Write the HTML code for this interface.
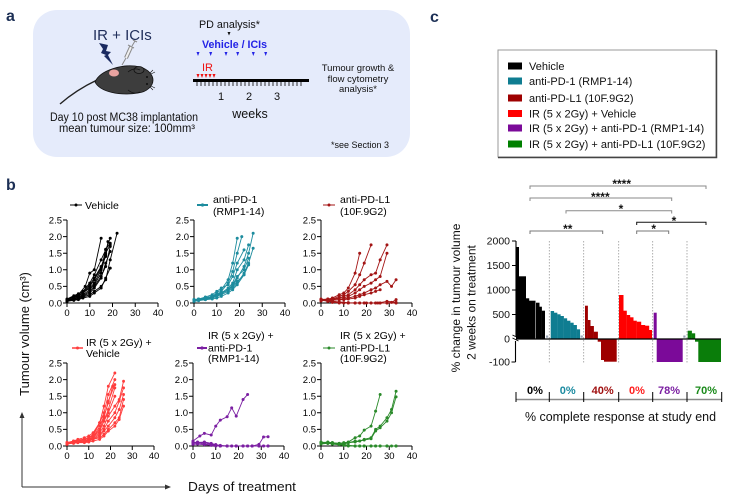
<!DOCTYPE html>
<html><head><meta charset="utf-8"><style>
html,body{margin:0;padding:0;background:#fff}
svg{display:block;font-family:"Liberation Sans",Arial,sans-serif}
.ax{stroke:#000;stroke-width:1;fill:none}
.tk{font-size:9.5px;fill:#000}
.s polyline{fill:none;stroke-width:0.9;vector-effect:non-scaling-stroke}
.lg{font-size:10.5px;fill:#000}
</style></head><body>
<svg width="735" height="497" viewBox="0 0 735 497" xmlns="http://www.w3.org/2000/svg">
<defs>
<marker id="m0" markerUnits="userSpaceOnUse" overflow="visible" style="overflow:visible"><circle r="1.5" transform="scale(0.4396,0.03012)" fill="#000"/></marker>
<marker id="m1" markerUnits="userSpaceOnUse" overflow="visible" style="overflow:visible"><circle r="1.5" transform="scale(0.4396,0.03012)" fill="#1d8c9e"/></marker>
<marker id="m2" markerUnits="userSpaceOnUse" overflow="visible" style="overflow:visible"><circle r="1.5" transform="scale(0.4396,0.03012)" fill="#a31515"/></marker>
<marker id="m3" markerUnits="userSpaceOnUse" overflow="visible" style="overflow:visible"><circle r="1.5" transform="scale(0.4396,0.03012)" fill="#ff3c3c"/></marker>
<marker id="m4" markerUnits="userSpaceOnUse" overflow="visible" style="overflow:visible"><circle r="1.5" transform="scale(0.4396,0.03012)" fill="#7b1fa2"/></marker>
<marker id="m5" markerUnits="userSpaceOnUse" overflow="visible" style="overflow:visible"><circle r="1.5" transform="scale(0.4396,0.03012)" fill="#2a8a2a"/></marker>
</defs>

<!-- ===== Panel a ===== -->
<text x="6" y="21" font-size="16" font-weight="bold" fill="#1c2f55">a</text>
<rect x="33" y="10" width="377" height="147" rx="24" fill="#e5ebfb"/>
<text x="93" y="40" font-size="15" fill="#1f2d5a">IR + ICIs</text>
<path d="M99,43 L108,45 L106,51 L111,52 L108,55 L113,65 L104,56 L106,55 L101,53 L103,49 Z" fill="#1a2a60"/>
<g stroke="#8a8a8a" fill="none">
<line x1="131" y1="47" x2="126" y2="58" stroke-width="4"/>
<line x1="131" y1="47" x2="126" y2="58" stroke="#f0f0f0" stroke-width="2"/>
<line x1="126" y1="58" x2="122" y2="65" stroke-width="1"/>
<line x1="132" y1="46" x2="135" y2="41" stroke-width="1"/>
<line x1="133" y1="40" x2="137" y2="42" stroke-width="1.2"/>
<line x1="128" y1="45" x2="134" y2="48" stroke-width="1"/>
</g>
<path d="M60,104 Q76,90 97,80" stroke="#222" stroke-width="1.4" fill="none"/>
<path d="M95,82 C100,70 124,63 140,67 C148,69 153,75 153,80 C153,86 147,92 138,93 C120,96 100,92 95,82 Z" fill="#3d3d3d" stroke="#111" stroke-width="0.8"/>
<ellipse cx="139" cy="70" rx="5" ry="3.5" fill="#444" stroke="#111" stroke-width="0.8"/>
<path d="M128,90 Q134,95 140,92" stroke="#111" stroke-width="0.8" fill="none"/>
<path d="M128,72 Q134,67 140,70" stroke="#111" stroke-width="0.8" fill="none"/>
<ellipse cx="114" cy="73" rx="5" ry="3.5" fill="#e9a3a0"/>
<circle cx="147" cy="77" r="0.9" fill="#000"/>
<circle cx="147" cy="84" r="0.9" fill="#000"/>
<path d="M150,73 l3,-3 M151,74 l4,-2 M150,87 l3,3 M151,86 l4,2" stroke="#111" stroke-width="0.6"/>
<text x="50" y="121" font-size="11.5" fill="#111" textLength="148" lengthAdjust="spacingAndGlyphs">Day 10 post MC38 implantation</text>
<text x="59" y="132" font-size="11.5" fill="#111" textLength="136" lengthAdjust="spacingAndGlyphs">mean tumour size: 100mm³</text>
<text x="199" y="28" font-size="11" fill="#111" textLength="61" lengthAdjust="spacingAndGlyphs">PD analysis*</text>
<path d="M227.5,32 h3 l-1.5,3.5 z" fill="#111"/>
<text x="202" y="48" font-size="11" font-weight="bold" fill="#2323e6" textLength="65" lengthAdjust="spacingAndGlyphs">Vehicle / ICIs</text>
<g fill="#2323e6">
<path d="M196.5,52 h3 l-1.5,4 z"/><path d="M209.2,52 h3 l-1.5,4 z"/><path d="M224.5,52 h3 l-1.5,4 z"/>
<path d="M236.2,52 h3 l-1.5,4 z"/><path d="M251.8,52 h3 l-1.5,4 z"/><path d="M264.2,52 h3 l-1.5,4 z"/>
</g>
<text x="202" y="71" font-size="11" fill="#ee1111">IR</text>
<g fill="#ee1111">
<path d="M196.5,74 h3 l-1.5,4 z"/><path d="M200.5,74 h3 l-1.5,4 z"/><path d="M204.5,74 h3 l-1.5,4 z"/>
<path d="M208.5,74 h3 l-1.5,4 z"/><path d="M212.5,74 h3 l-1.5,4 z"/>
</g>
<line x1="193" y1="80.5" x2="309" y2="80.5" stroke="#000" stroke-width="3"/>
<path d="M197,82v4m4,-4v4m4,-4v4m4,-4v4m4,-4v4m4,-4v4m4,-4v4m4,-4v4m4,-4v4m4,-4v4m4,-4v4m4,-4v4m4,-4v4m4,-4v4m4,-4v4m4,-4v4m4,-4v4m4,-4v4m4,-4v4m4,-4v4m4,-4v4m4,-4v4m4,-4v4m4,-4v4m4,-4v4m4,-4v4m4,-4v4" stroke="#000" stroke-width="0.8"/>
<g font-size="11" fill="#111" text-anchor="middle">
<text x="221" y="100">1</text><text x="249" y="100">2</text><text x="277" y="100">3</text>
</g>
<text x="250" y="118" font-size="12.5" fill="#111" text-anchor="middle">weeks</text>
<g font-size="9.5" fill="#111" text-anchor="middle">
<text x="358" y="71">Tumour growth &amp;</text>
<text x="358" y="82">flow cytometry</text>
<text x="358" y="92">analysis*</text>
</g>
<text x="331" y="148" font-size="9" fill="#111" textLength="58" lengthAdjust="spacingAndGlyphs">*see Section 3</text>

<!-- ===== Panel b ===== -->
<text x="6" y="190" font-size="16" font-weight="bold" fill="#1c2f55">b</text>
<path d="M22,487 V417 M22,487 H166" stroke="#333" stroke-width="1" fill="none"/>
<path d="M19.5,418 L22,412 L24.5,418 Z M165,484.5 L171,487 L165,489.5 Z" fill="#333"/>
<text transform="translate(29,334) rotate(-90)" text-anchor="middle" font-size="13" fill="#111">Tumour volume (cm³)</text>
<text x="188" y="491" font-size="13" fill="#111" textLength="108" lengthAdjust="spacingAndGlyphs">Days of treatment</text>

<g class="ax">
<path d="M67,220V303H158 M63,303h4M63,286.4h4M63,269.8h4M63,253.2h4M63,236.6h4M63,220h4 M67,303v4M89.75,303v4M112.5,303v4M135.25,303v4M158,303v4"/>
<path d="M194,220V303H285 M190,303h4M190,286.4h4M190,269.8h4M190,253.2h4M190,236.6h4M190,220h4 M194,303v4M216.75,303v4M239.5,303v4M262.25,303v4M285,303v4"/>
<path d="M321,220V303H412 M317,303h4M317,286.4h4M317,269.8h4M317,253.2h4M317,236.6h4M317,220h4 M321,303v4M343.75,303v4M366.5,303v4M389.25,303v4M412,303v4"/>
<path d="M67,363V446H154 M63,446h4M63,429.4h4M63,412.8h4M63,396.2h4M63,379.6h4M63,363h4 M67,446v4M88.75,446v4M110.5,446v4M132.25,446v4M154,446v4"/>
<path d="M193,363V446H284 M189,446h4M189,429.4h4M189,412.8h4M189,396.2h4M189,379.6h4M189,363h4 M193,446v4M215.75,446v4M238.5,446v4M261.25,446v4M284,446v4"/>
<path d="M321,363V446H412 M317,446h4M317,429.4h4M317,412.8h4M317,396.2h4M317,379.6h4M317,363h4 M321,446v4M343.75,446v4M366.5,446v4M389.25,446v4M412,446v4"/>
</g>
<g class="tk" text-anchor="end">
<text x="62" y="306.3">0.0</text><text x="62" y="289.7">0.5</text><text x="62" y="273.1">1.0</text><text x="62" y="256.5">1.5</text><text x="62" y="239.9">2.0</text><text x="62" y="223.3">2.5</text>
<text x="189" y="306.3">0.0</text><text x="189" y="289.7">0.5</text><text x="189" y="273.1">1.0</text><text x="189" y="256.5">1.5</text><text x="189" y="239.9">2.0</text><text x="189" y="223.3">2.5</text>
<text x="316" y="306.3">0.0</text><text x="316" y="289.7">0.5</text><text x="316" y="273.1">1.0</text><text x="316" y="256.5">1.5</text><text x="316" y="239.9">2.0</text><text x="316" y="223.3">2.5</text>
<text x="62" y="449.3">0.0</text><text x="62" y="432.7">0.5</text><text x="62" y="416.1">1.0</text><text x="62" y="399.5">1.5</text><text x="62" y="382.9">2.0</text><text x="62" y="366.3">2.5</text>
<text x="188" y="449.3">0.0</text><text x="188" y="432.7">0.5</text><text x="188" y="416.1">1.0</text><text x="188" y="399.5">1.5</text><text x="188" y="382.9">2.0</text><text x="188" y="366.3">2.5</text>
<text x="316" y="449.3">0.0</text><text x="316" y="432.7">0.5</text><text x="316" y="416.1">1.0</text><text x="316" y="399.5">1.5</text><text x="316" y="382.9">2.0</text><text x="316" y="366.3">2.5</text>
</g>
<g class="tk" text-anchor="middle">
<text x="67" y="316">0</text><text x="89.75" y="316">10</text><text x="112.5" y="316">20</text><text x="135.25" y="316">30</text><text x="158" y="316">40</text>
<text x="194" y="316">0</text><text x="216.75" y="316">10</text><text x="239.5" y="316">20</text><text x="262.25" y="316">30</text><text x="285" y="316">40</text>
<text x="321" y="316">0</text><text x="343.75" y="316">10</text><text x="366.5" y="316">20</text><text x="389.25" y="316">30</text><text x="412" y="316">40</text>
<text x="67" y="459">0</text><text x="88.75" y="459">10</text><text x="110.5" y="459">20</text><text x="132.25" y="459">30</text><text x="154" y="459">40</text>
<text x="193" y="459">0</text><text x="215.75" y="459">10</text><text x="238.5" y="459">20</text><text x="261.25" y="459">30</text><text x="284" y="459">40</text>
<text x="321" y="459">0</text><text x="343.75" y="459">10</text><text x="366.5" y="459">20</text><text x="389.25" y="459">30</text><text x="412" y="459">40</text>
</g>

<line x1="70" y1="205" x2="82" y2="205" stroke="#000" stroke-width="1"/><circle cx="76" cy="205" r="1.5" fill="#000"/>
<text class="lg" x="85" y="209">Vehicle</text>
<line x1="197" y1="205" x2="208" y2="205" stroke="#1d8c9e" stroke-width="2"/><circle cx="202.5" cy="205" r="1.6" fill="#1d8c9e"/>
<text class="lg" x="213" y="203">anti-PD-1</text><text class="lg" x="213" y="215">(RMP1-14)</text>
<line x1="323" y1="205" x2="335" y2="205" stroke="#a31515" stroke-width="1"/><circle cx="329" cy="205" r="1.5" fill="#a31515"/>
<text class="lg" x="340" y="203">anti-PD-L1</text><text class="lg" x="340" y="215">(10F.9G2)</text>
<line x1="72" y1="348" x2="83" y2="348" stroke="#ff3c3c" stroke-width="1.5"/><circle cx="77.5" cy="348" r="1.5" fill="#ff3c3c"/>
<text class="lg" x="86" y="346">IR (5 x 2Gy) +</text><text class="lg" x="86" y="357">Vehicle</text>
<line x1="197" y1="348" x2="207" y2="348" stroke="#7b1fa2" stroke-width="2"/><circle cx="202" cy="348" r="1.6" fill="#7b1fa2"/>
<text class="lg" x="208" y="339">IR (5 x 2Gy) +</text><text class="lg" x="208" y="351.5">anti-PD-1</text><text class="lg" x="208" y="362">(RMP1-14)</text>
<line x1="323" y1="348" x2="335" y2="348" stroke="#2a8a2a" stroke-width="1"/><circle cx="329" cy="348" r="1.5" fill="#2a8a2a"/>
<text class="lg" x="340" y="339">IR (5 x 2Gy) +</text><text class="lg" x="340" y="351.5">anti-PD-L1</text><text class="lg" x="340" y="362">(10F.9G2)</text>

<g class="s" transform="translate(67,303) scale(2.275,-33.2)" stroke="#000" style="marker:url(#m0)">
<polyline points="0,.08 3,.15 5,.25 8,.5 10,.9 12,1 15,1.95"/>
<polyline points="0,.1 3,.2 5,.25 7,.35 10,.6 12,.85 15,1.3 17,1.6 19,1.95"/>
<polyline points="0,.06 3,.12 5,.18 7,.25 10,.4 12,.55 15,.9 17,1.5 19,1.75"/>
<polyline points="0,.1 3,.2 5,.22 7,.3 10,.45 12,.6 15,1 17,1.62 19,1.8"/>
<polyline points="0,.08 3,.12 5,.15 7,.2 10,.3 12,.45 15,.75 17,1.2 19,1.55"/>
<polyline points="0,.05 3,.1 5,.12 7,.18 10,.25 12,.35 15,.5 17,.7 19,1.3 22,2.1"/>
<polyline points="0,.1 3,.18 5,.2 7,.3 10,.5 12,.7 15,1.05 17,1.4 18,1.85"/>
<polyline points="0,.07 3,.15 5,.18 7,.22 10,.35 12,.5 15,.8 17,1.1 19,1.7"/>
<polyline points="0,.05 3,.08 5,.1 7,.15 10,.2 12,.3 15,.45 17,.75 19,1.05"/>
<polyline points="0,.12 3,.22 5,.28 7,.32 10,.55 12,.75 15,1.1 17,1.45"/>
</g>
<g class="s" transform="translate(194,303) scale(2.275,-33.2)" stroke="#1d8c9e" style="marker:url(#m1)">
<polyline points="0,.1 2,.12 5,.15 8,.2 10,.3 12,.4 15,.7 17,1.2 19,1.95"/>
<polyline points="0,.08 2,.1 5,.15 8,.2 10,.25 12,.35 15,.6 17,.95 19,1.5 21,2"/>
<polyline points="0,.1 2,.12 5,.18 8,.25 10,.35 12,.45 15,.55 17,.8 19,1.2 22,1.6"/>
<polyline points="0,.06 2,.08 5,.12 8,.18 10,.22 12,.3 15,.45 17,.6 19,1 22,1.3 24,1.75"/>
<polyline points="0,.1 2,.1 5,.15 8,.2 10,.25 12,.3 15,.4 17,.5 19,.75 22,1.1 24,1.5 26,2.1"/>
<polyline points="0,.07 2,.08 5,.1 8,.15 10,.2 12,.25 15,.35 17,.45 19,.6 22,.9 24,1.2 26,1.65"/>
<polyline points="0,.05 2,.07 5,.1 8,.12 10,.15 12,.2 15,.3 17,.4 19,.55 22,.85 24,1.15"/>
<polyline points="0,.08 2,.1 5,.12 8,.15 10,.2 12,.28 15,.4 17,.55 19,.8 22,1 24,1.35"/>
<polyline points="0,.1 5,.15 8,.2 10,.25 12,.3 15,.38 17,.5 19,.65 22,.85"/>
</g>
<g class="s" transform="translate(321,303) scale(2.275,-33.2)" stroke="#a31515" style="marker:url(#m2)">
<polyline points="0,.1 3,.12 5,.15 8,.25 10,.3 12,.45 15,.9 17,1.5"/>
<polyline points="0,.08 3,.1 5,.12 8,.2 10,.25 12,.35 15,.55 17,.85 19,1.2 22,1.75"/>
<polyline points="0,.1 3,.12 5,.1 8,.15 10,.2 12,.25 15,.4 17,.55 19,.7 22,.85 24,.9 26,1.3 29,1.75"/>
<polyline points="0,.06 3,.1 5,.12 8,.15 10,.15 12,.2 15,.3 17,.4 19,.5 22,.6 24,.7 26,.8 29,1.5"/>
<polyline points="0,.1 3,.08 5,.1 8,.1 10,.12 12,.15 15,.2 17,.25 19,.3 22,.4 24,.45 26,.55 29,.65 31,.5 33,.7"/>
<polyline points="0,.08 3,.1 5,.08 8,.1 10,.1 12,.12 15,.15 17,.2 19,.25 22,.3 24,.35 26,.4"/>
<polyline points="0,.12 3,.1 5,.05 8,.02 10,.01 12,0 15,0 17,0 19,0 22,0 24,0 26,0 29,0 31,.02 33,.1"/>
<polyline points="0,.1 3,.05 5,.02 8,0 12,0 15,0 19,0 22,0 26,0 29,0 33,0"/>
<polyline points="0,.1 5,.05 8,.02 10,0 15,0 20,0 25,0 29,.05 33,.02"/>
<polyline points="0,.08 3,.06 8,.03 12,.01 17,0 24,0 33,0"/>
</g>
<g class="s" transform="translate(67,446) scale(2.175,-33.2)" stroke="#ff3c3c" style="marker:url(#m3)">
<polyline points="0,.1 3,.15 5,.2 8,.25 10,.3 12,.4 15,.7 17,1.2 19,1.8 22,2.2"/>
<polyline points="0,.08 3,.12 5,.18 8,.2 10,.25 12,.35 15,.7 17,1 19,1.55 22,2"/>
<polyline points="0,.1 3,.15 5,.18 8,.2 10,.25 12,.3 15,.5 17,.85 19,1.35 22,1.85"/>
<polyline points="0,.06 3,.1 5,.15 8,.18 10,.2 12,.28 15,.45 17,.75 19,1.1 22,1.75"/>
<polyline points="0,.1 3,.12 5,.15 8,.15 10,.2 12,.25 15,.4 17,.6 19,.9 22,1.2 24,1.4 26,1.95"/>
<polyline points="0,.08 3,.1 5,.12 8,.15 10,.18 12,.22 15,.35 17,.5 19,.75 22,1 24,1.35 26,1.75"/>
<polyline points="0,.05 3,.1 5,.1 8,.12 10,.15 12,.2 15,.3 17,.45 19,.6 22,.85 24,1.1 26,1.55"/>
<polyline points="0,.1 3,.1 5,.12 8,.15 10,.15 12,.2 15,.25 17,.35 19,.5 22,.7 24,.85 26,1.4"/>
<polyline points="0,.07 3,.08 5,.1 8,.1 10,.12 12,.15 15,.2 17,.3 19,.45 22,.6 24,.8 26,1.2"/>
<polyline points="0,.1 3,.12 5,.15 8,.2 10,.25 12,.3 15,.7 17,.75 19,1 22,1.5"/>
<polyline points="0,.08 3,.1 5,.12 8,.15 10,.2 12,.25 15,.6 17,.9 19,1.3 21,1.8"/>
</g>
<g class="s" transform="translate(193,446) scale(2.275,-33.2)" stroke="#7b1fa2" style="marker:url(#m4)">
<polyline points="0,.15 3,.3 5,.38 8,.33 10,.6 12,.78 15,.88 17,1.15 19,.9 22,1.4 24,1.55"/>
<polyline points="0,.12 2,.1 5,.12 8,.08 10,.04 12,0 15,0 19,0 22,0 26,0 29,.05 31,.27 33,.28"/>
<polyline points="0,.1 2,.12 5,.1 8,.05 10,.03 12,0 15,0 17,0 19,0 22,0 24,0 26,0 29,0 31,0 33,0"/>
<polyline points="0,.08 2,.1 5,.06 8,.03 10,.02 12,0 15,0 17,0 19,0 22,0 24,0 26,0 29,0 31,0 33,0"/>
<polyline points="0,.05 2,.06 5,.04 8,.02 10,0 12,0 15,0 19,0 22,0 26,0 29,0 33,0"/>
<polyline points="0,.1 2,.08 5,.1 8,.06 10,.04 12,.02 15,0 19,0 24,0"/>
</g>
<g class="s" transform="translate(321,446) scale(2.275,-33.2)" stroke="#2a8a2a" style="marker:url(#m5)">
<polyline points="0,.1 3,.1 5,.08 8,.08 10,.1 12,.12 15,.25 17,.3 19,.48 22,.6 24,1.05 26,1.55"/>
<polyline points="0,.1 3,.08 5,.06 8,.05 10,.05 12,.1 15,.15 17,.15 19,.2 22,.25 24,.5 26,.6 29,.85 31,1.1 33,1.65"/>
<polyline points="0,.08 3,.1 5,.08 8,.05 10,.08 12,.1 15,.12 17,.15 19,.18 22,.22 24,.45 26,.55 29,.75 31,1 33,1.48"/>
<polyline points="0,.1 3,.12 5,.1 8,.08 10,.05 12,.02 15,0 17,0 19,0 22,0 24,0 26,0 29,0 31,0 33,0"/>
<polyline points="0,.12 3,.1 5,.06 8,.04 10,.02 12,0 15,0 17,0 19,0 22,0 26,0 29,0 33,0"/>
<polyline points="0,.06 3,.08 5,.1 8,.06 10,.03 12,.01 15,0 19,0 24,0 29,0 33,0"/>
</g>

<!-- ===== Panel c ===== -->
<text x="430" y="22" font-size="16" font-weight="bold" fill="#1c2f55">c</text>
<rect x="498" y="50" width="218" height="107" fill="#fff" stroke="#999" stroke-width="1"/>
<path d="M716.5,50 V157.5 H498" stroke="#444" stroke-width="1.5" fill="none"/>
<rect x="508" y="62.5" width="14" height="7" fill="#000"/>
<rect x="508" y="77.5" width="14" height="7" fill="#0f7d91"/>
<rect x="508" y="94.5" width="14" height="7" fill="#9e0000"/>
<rect x="508" y="110" width="14" height="7" fill="#ff0000"/>
<rect x="508" y="124.5" width="14" height="7" fill="#7b0a99"/>
<rect x="508" y="140.5" width="14" height="7" fill="#008000"/>
<g font-size="11" fill="#111">
<text x="529" y="70">Vehicle</text>
<text x="529" y="85">anti-PD-1 (RMP1-14)</text>
<text x="529" y="102">anti-PD-L1 (10F.9G2)</text>
<text x="529" y="117.5">IR (5 x 2Gy) + Vehicle</text>
<text x="529" y="132">IR (5 x 2Gy) + anti-PD-1 (RMP1-14)</text>
<text x="529" y="148">IR (5 x 2Gy) + anti-PD-L1 (10F.9G2)</text>
</g>

<g fill="none" stroke-width="1">
<path d="M530,189 V186 H706 V189" stroke="#8a8a8a"/>
<path d="M530,201 V198 H671.7 V201" stroke="#8a8a8a"/>
<path d="M566,213.5 V210.7 H671.7 V213.5" stroke="#8a8a8a"/>
<path d="M636.7,225 V222.3 H706 V225" stroke="#111"/>
<path d="M636.7,234 V231 H668.7 V234" stroke="#777"/>
<path d="M530,234 V231 H602.7 V234" stroke="#777"/>
</g>
<g font-size="12" font-weight="bold" fill="#111" text-anchor="middle">
<text x="621.7" y="188">****</text>
<text x="600.3" y="201">****</text>
<text x="621" y="213">*</text>
<text x="674" y="225">*</text>
<text x="653.7" y="233">*</text>
<text x="567.8" y="233">**</text>
</g>

<g stroke="#9a9a9a" stroke-width="0.8" stroke-dasharray="1.5,1.5">
<line x1="549.3" y1="241" x2="549.3" y2="363"/>
<line x1="583.7" y1="241" x2="583.7" y2="363"/>
<line x1="618.7" y1="241" x2="618.7" y2="363"/>
<line x1="652.7" y1="241" x2="652.7" y2="363"/>
<line x1="687" y1="241" x2="687" y2="363"/>
</g>

<g fill="#000">
<rect x="516" y="247" width="3" height="92"/>
<rect x="519" y="276.3" width="7" height="62.7"/>
<rect x="525.7" y="298.3" width="3.5" height="40.7"/>
<rect x="529" y="300.7" width="6.5" height="38.3"/>
<rect x="536" y="302.7" width="3.5" height="36.3"/>
<rect x="539.3" y="306.7" width="2.6" height="32.3"/>
<rect x="541.7" y="310.7" width="3.3" height="28.3"/>
</g>
<g fill="#0f7d91">
<rect x="550.7" y="311" width="3.4" height="28"/>
<rect x="553.96" y="312.7" width="3.4" height="26.3"/>
<rect x="557.22" y="314.3" width="3.4" height="24.7"/>
<rect x="560.48" y="316" width="3.4" height="23"/>
<rect x="563.74" y="318.3" width="3.4" height="20.7"/>
<rect x="567" y="320.7" width="3.4" height="18.3"/>
<rect x="570.26" y="322.7" width="3.4" height="16.3"/>
<rect x="573.52" y="325" width="3.4" height="14"/>
<rect x="576.78" y="329.3" width="3.3" height="9.7"/>
</g>
<g fill="#9e0000">
<rect x="585" y="305.7" width="2.9" height="33.3"/>
<rect x="587.7" y="320" width="2.8" height="19"/>
<rect x="590.3" y="326" width="3.6" height="13"/>
<rect x="593.7" y="331.7" width="4.2" height="7.3"/>
<rect x="597.7" y="339" width="3.5" height="2.7"/>
<rect x="601" y="339" width="3.2" height="21"/>
<rect x="604" y="339" width="12.7" height="22.7"/>
</g>
<g fill="#ff0000">
<rect x="619" y="295" width="4.5" height="44"/>
<rect x="623.3" y="310.7" width="3.5" height="28.3"/>
<rect x="626.7" y="315" width="3.5" height="24"/>
<rect x="630" y="317.3" width="3.5" height="21.7"/>
<rect x="633.3" y="320.7" width="3.5" height="18.3"/>
<rect x="636.7" y="321.7" width="4.5" height="17.3"/>
<rect x="641" y="325" width="4.2" height="14"/>
<rect x="645" y="325.7" width="4.2" height="13.3"/>
<rect x="649" y="330" width="3" height="9"/>
</g>
<g fill="#7b0a99">
<rect x="653.7" y="312.7" width="3" height="26.3"/>
<rect x="656.7" y="339" width="26" height="23"/>
</g>
<g fill="#0a7d0a">
<rect x="687.7" y="330.7" width="4.2" height="8.3"/>
<rect x="691.7" y="333.3" width="3.5" height="5.7"/>
<rect x="695" y="339" width="3.5" height="2.7"/>
<rect x="698.3" y="339" width="22.7" height="23"/>
</g>
<g fill="#9aa3b5">
<rect x="546" y="335.5" width="2.2" height="2.2"/>
<rect x="580.6" y="335.5" width="2.2" height="2.2"/>
<rect x="683.3" y="335.5" width="2.2" height="2.2"/>
</g>
<line x1="516" y1="339" x2="721" y2="339" stroke="#000" stroke-width="1.2"/>
<path d="M516,241 V336 M515.5,341 V362 M512,241h4M512,265.5h4M512,290h4M512,314.5h4M511.5,362h4" stroke="#000" stroke-width="1.1" fill="none"/>
<path d="M512.5,335 l6,3 M512.5,338 l6,3" stroke="#000" stroke-width="0.9"/>
<g font-size="10.5" fill="#111" text-anchor="end">
<text x="510" y="244.5">2000</text>
<text x="510" y="269">1500</text>
<text x="510" y="293.5">1000</text>
<text x="510" y="318">500</text>
<text x="510" y="342.5">0</text>
<text x="510" y="365.5">-100</text>
</g>
<text transform="translate(460,298) rotate(-90)" text-anchor="middle" font-size="12" fill="#111">% change in tumour volume</text>
<text transform="translate(475.5,302.5) rotate(-90)" text-anchor="middle" font-size="12" fill="#111">2 weeks on treatment</text>

<line x1="516" y1="399.5" x2="721.7" y2="399.5" stroke="#8a8a8a" stroke-width="1.6"/>
<path d="M516,392V402M549.3,392V402M583.7,392V402M618.7,392V402M652.7,392V402M687,392V402M721.7,392V402" stroke="#000" stroke-width="1"/>
<g font-size="11" font-weight="bold" text-anchor="middle">
<text x="535" y="394" fill="#000">0%</text>
<text x="567.7" y="394" fill="#1b8aa0">0%</text>
<text x="602.7" y="394" fill="#a01010">40%</text>
<text x="637" y="394" fill="#ff2020">0%</text>
<text x="669" y="394" fill="#7b1fa2">78%</text>
<text x="706" y="394" fill="#1a8a1a">70%</text>
</g>
<text x="525" y="421" font-size="13" fill="#111" textLength="191" lengthAdjust="spacingAndGlyphs">% complete response at study end</text>
</svg>
</body></html>
